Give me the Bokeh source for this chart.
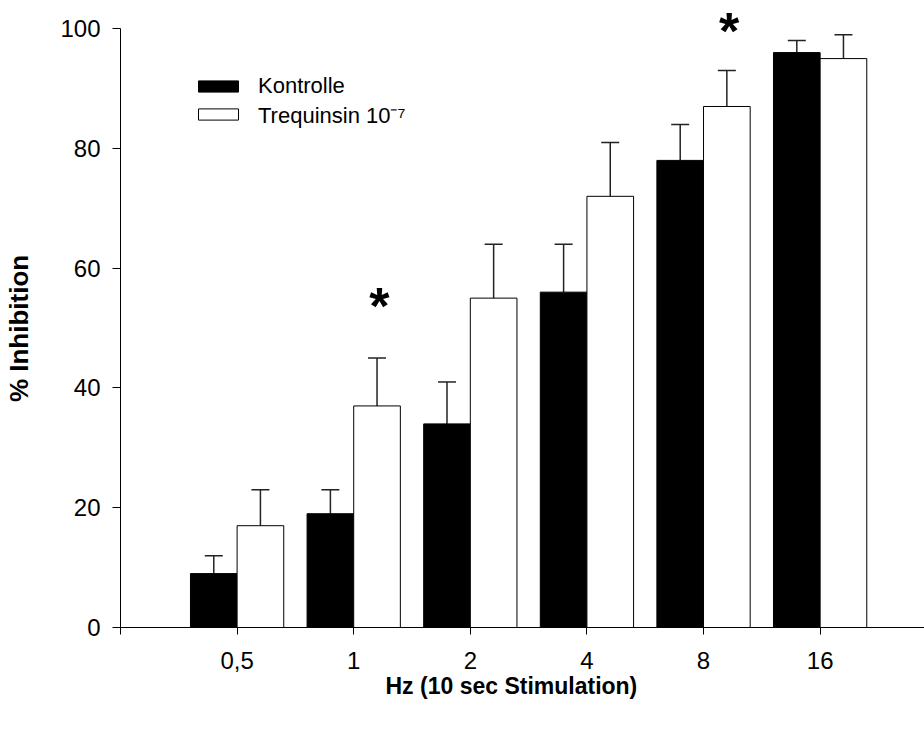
from bokeh.plotting import figure
from bokeh.models import (Range1d, FixedTicker, Whisker, TeeHead, ColumnDataSource,
                          Legend, LegendItem, LinearAxis, Title)
from bokeh.core.properties import value
from bokeh.embed import file_html
from bokeh.resources import INLINE

# ---- data ----
categories = ["0,5", "1", "2", "4", "8", "16"]
kontrolle = [9, 19, 34, 56, 78, 96]
kontrolle_err = [3, 4, 7, 8, 6, 2]
trequinsin = [17, 37, 55, 72, 87, 95]
trequinsin_err = [6, 8, 9, 9, 6, 4]
star_categories = ["1", "8"]
star_y = [58.6, 104.5]
y_ticks = [0, 20, 40, 60, 80, 100]

FONT = "Liberation Sans"
pos = list(range(1, len(categories) + 1))
BAR_W = 0.4

src_k = ColumnDataSource(dict(x=[c - BAR_W / 2 for c in pos], top=kontrolle,
                              upper=[v + e for v, e in zip(kontrolle, kontrolle_err)]))
src_t = ColumnDataSource(dict(x=[c + BAR_W / 2 for c in pos], top=trequinsin,
                              upper=[v + e for v, e in zip(trequinsin, trequinsin_err)]))

p = figure(width=924, height=731, output_backend="svg", toolbar_location=None,
           x_range=Range1d(0, 6.895), y_range=Range1d(0, 104.7),
           x_axis_type=None, y_axis_type=None,
           min_border_left=120, min_border_right=0, min_border_top=0, min_border_bottom=104)
p.outline_line_color = None
p.xgrid.visible = False
p.ygrid.visible = False
p.background_fill_color = "white"
p.border_fill_color = "white"

rk = p.vbar(x="x", top="top", width=BAR_W, bottom=0, source=src_k,
            fill_color="black", line_color="black", line_width=1)
rt = p.vbar(x="x", top="top", width=BAR_W, bottom=0, source=src_t,
            fill_color="white", line_color="black", line_width=1)

for src in (src_k, src_t):
    w = Whisker(source=src, base="x", lower="top", upper="upper",
                line_color="#222222", line_width=1.5, lower_head=None,
                upper_head=TeeHead(size=18, line_color="#222222", line_width=1.5))
    p.add_layout(w)

star_x = [categories.index(c) + 1 + BAR_W / 2 + 0.02 for c in star_categories]
p.text(x=star_x, y=star_y, text=["*"] * len(star_x), text_font=value(FONT),
       text_font_style="bold", text_font_size="52px", text_align="center",
       text_baseline="top", text_color="black")

# y axis (title padded with no-break spaces so it is centred on the drawn 0..100 axis)
yax = LinearAxis(ticker=FixedTicker(ticks=y_ticks), bounds=(0, 100))
yax.axis_label = "% Inhibition" + "\u00a0" * 4
yax.axis_label_text_font = FONT
yax.axis_label_text_font_size = "26px"
yax.axis_label_text_font_style = "bold"
yax.axis_label_text_color = "black"
yax.axis_label_standoff = 23
yax.major_label_text_font = FONT
yax.major_label_text_font_size = "24px"
yax.major_label_text_color = "black"
yax.major_label_standoff = 12
yax.major_tick_in = 0
yax.major_tick_out = 8
yax.minor_tick_line_color = None
yax.axis_line_color = "black"
yax.major_tick_line_color = "black"
p.add_layout(yax, "left")

# x axis
xax = LinearAxis(ticker=FixedTicker(ticks=[0] + pos))
xax.major_label_overrides = {0: ""} | {i: c for i, c in zip(pos, categories)}
xax.major_label_text_font = FONT
xax.major_label_text_font_size = "24px"
xax.major_label_text_color = "black"
xax.major_label_standoff = 17
xax.major_tick_in = 0
xax.major_tick_out = 7
xax.minor_tick_line_color = None
xax.axis_line_color = "black"
xax.major_tick_line_color = "black"
p.add_layout(xax, "below")

xtitle = Title(text="Hz (10 sec Stimulation)", align="left", offset=265,
               vertical_align="top", standoff=2,
               text_font=FONT, text_font_size="23px", text_font_style="bold",
               text_color="black")
p.add_layout(xtitle, "below")

legend = Legend(items=[LegendItem(label="Kontrolle", renderers=[rk]),
                       LegendItem(label="Trequinsin 10\u207b\u2077", renderers=[rt])],
                location=(73, 498), orientation="vertical",
                glyph_width=50, glyph_height=14, label_height=14, spacing=0,
                label_standoff=15, padding=0, margin=0,
                border_line_color=None, background_fill_alpha=0,
                label_text_font=FONT, label_text_font_size="22px", label_text_color="black")
p.add_layout(legend)

open("out.html", "w").write(file_html(p, INLINE))
